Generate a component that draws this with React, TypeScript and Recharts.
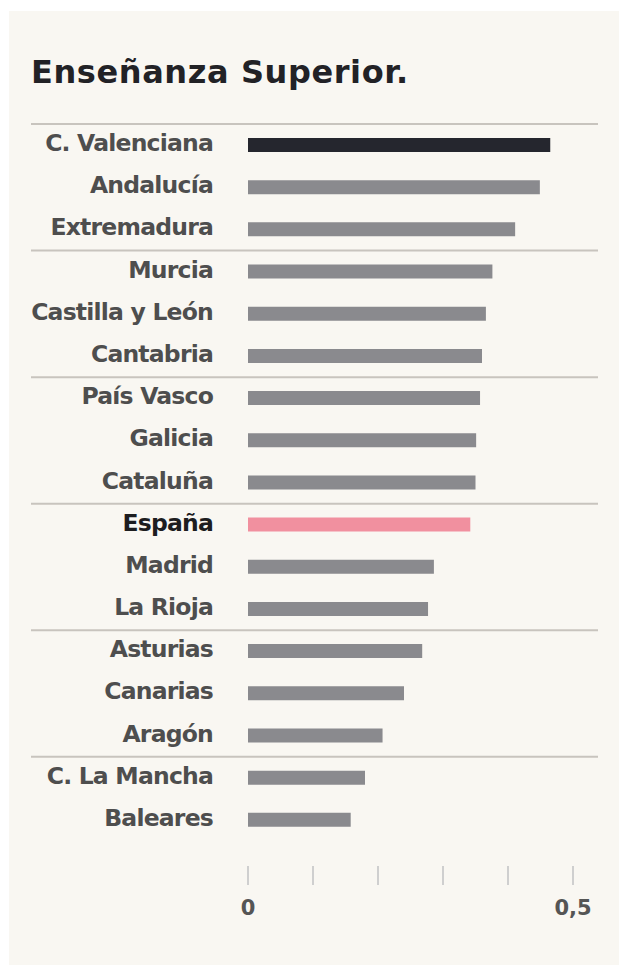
import React from 'react';
import { BarChart, Bar, XAxis, YAxis, Cell } from 'recharts';

const regions = [
  'C. Valenciana', 'Andalucía', 'Extremadura', 'Murcia', 'Castilla y León', 'Cantabria',
  'País Vasco', 'Galicia', 'Cataluña', 'España', 'Madrid', 'La Rioja',
  'Asturias', 'Canarias', 'Aragón', 'C. La Mancha', 'Baleares'
];
const values = [
  0.465, 0.449, 0.411, 0.376, 0.366, 0.36,
  0.357, 0.351, 0.35, 0.342, 0.286, 0.277,
  0.268, 0.24, 0.207, 0.18, 0.158
];
const groupStarts = [0, 3, 6, 9, 12, 15];
const xTicks = [0, 0.1, 0.2, 0.3, 0.4, 0.5];
const xTickLabels: Record<number, string> = { 0: '0', 0.5: '0,5' };

const data = regions.map((name, i) => ({ name, value: values[i] }));

const FONT = '"DejaVu Sans", sans-serif';
const BG = '#f9f7f2';

const barColor = (name: string, i: number) => {
  if (i === 0) return '#25262e';
  if (name === 'España') return '#f1909f';
  return '#8a8a8e';
};

const RegionTick = (props: any) => {
  const { x, y, payload, index } = props;
  const isSpain = payload.value === 'España';
  return (
    <g>
      {groupStarts.includes(index) && (
        <line x1={22} x2={589} y1={y - 21} y2={y - 21} stroke="#c8c4be" strokeWidth={2} />
      )}
      <text
        x={x - 35}
        y={y + 6}
        textAnchor="end"
        fontFamily={FONT}
        fontWeight="bold"
        fontSize={23.5}
        letterSpacing={-0.8}
        fill={isSpain ? '#1d1d1f' : '#4e4e4e'}
      >
        {payload.value}
      </text>
    </g>
  );
};

const ValueTick = (props: any) => {
  const { x, y, payload } = props;
  const label = xTickLabels[payload.value];
  return (
    <g>
      <line x1={x} x2={x} y1={y + 25} y2={y + 44} stroke="#cfcfcf" strokeWidth={2} />
      {label && (
        <text x={x} y={y + 74} textAnchor="middle" fontFamily={FONT} fontWeight="bold" fontSize={21} fill="#555">
          {label}
        </text>
      )}
    </g>
  );
};

export default function App() {
  return (
    <div style={{ position: 'absolute', left: 9, top: 11, width: 610, height: 954, background: BG }}>
      <div
        style={{
          position: 'absolute',
          left: 22,
          top: 45,
          fontFamily: FONT,
          fontWeight: 'bold',
          fontSize: 32,
          lineHeight: 1,
          letterSpacing: 0.6,
          color: '#222226',
          whiteSpace: 'nowrap'
        }}
      >
        Enseñanza Superior.
      </div>
      <div style={{ position: 'absolute', left: 0, top: 0 }}>
        <BarChart
          width={610}
          height={954}
          data={data}
          layout="vertical"
          margin={{ top: 113, right: 46, bottom: 24, left: 0 }}
        >
          <XAxis
            type="number"
            domain={[0, 0.5]}
            ticks={xTicks}
            axisLine={false}
            tickLine={false}
            tickSize={0}
            tickMargin={0}
            height={100}
            tick={<ValueTick />}
            interval={0}
          />
          <YAxis
            type="category"
            dataKey="name"
            width={239}
            axisLine={false}
            tickLine={false}
            tickSize={0}
            tickMargin={0}
            interval={0}
            tick={<RegionTick />}
          />
          <Bar dataKey="value" barSize={14} isAnimationActive={false}>
            {data.map((d, i) => (
              <Cell key={d.name} fill={barColor(d.name, i)} />
            ))}
          </Bar>
        </BarChart>
      </div>
    </div>
  );
}
